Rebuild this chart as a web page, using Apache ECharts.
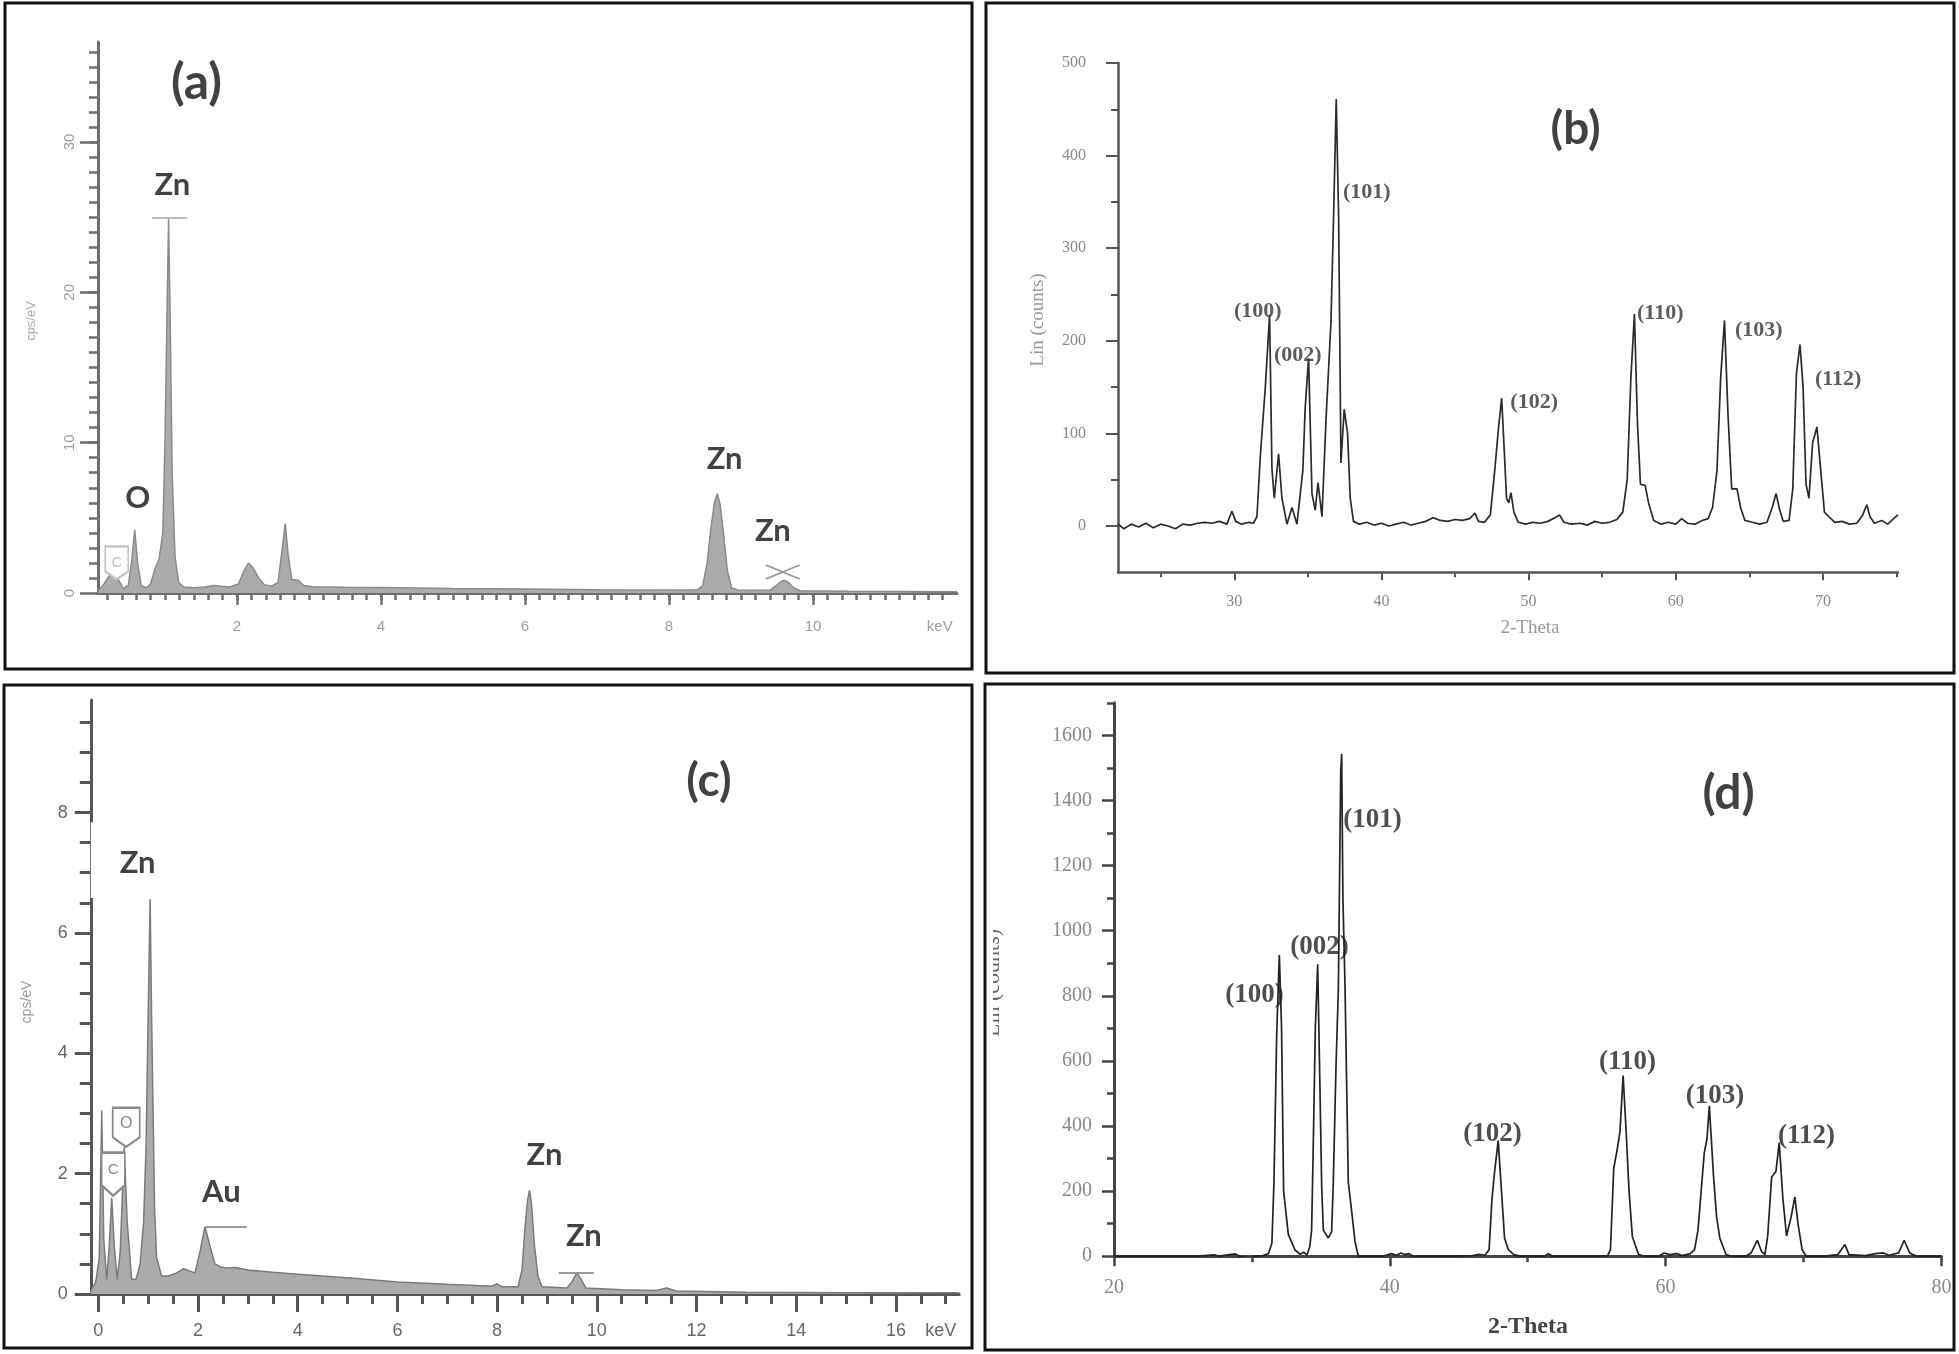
<!DOCTYPE html>
<html><head><meta charset="utf-8">
<script src="https://cdn.jsdelivr.net/npm/echarts@6/dist/echarts.min.js"></script>
<style>html,body{margin:0;padding:0;background:#fff}#c{width:1959px;height:1354px}</style>
</head><body><div id="c"></div>
<script>
// ---------- DATA ----------
// (a) EDS spectrum  [keV, cps/eV]
const edsA = [[0.07,0.15],[0.14,0.5],[0.22,1.1],[0.29,1.5],[0.35,0.9],[0.42,0.3],[0.49,0.5],[0.54,2.2],[0.58,4.2],[0.62,2.0],[0.67,0.5],[0.74,0.35],[0.80,0.6],[0.86,1.6],[0.92,2.3],[0.97,4.0],[1.00,10],[1.03,19],[1.05,24.9],[1.07,19],[1.10,8],[1.14,2.4],[1.19,0.7],[1.26,0.4],[1.4,0.35],[1.55,0.4],[1.68,0.5],[1.78,0.45],[1.9,0.4],[2.02,0.6],[2.1,1.5],[2.16,2.0],[2.22,1.7],[2.3,1.0],[2.38,0.55],[2.48,0.45],[2.57,0.7],[2.62,2.6],[2.67,4.6],[2.71,2.6],[2.76,0.9],[2.85,0.85],[2.93,0.5],[3.05,0.42],[3.5,0.38],[4.0,0.36],[5.0,0.3],[6.0,0.26],[7.0,0.22],[8.0,0.2],[8.40,0.22],[8.47,0.5],[8.53,2.0],[8.58,4.2],[8.63,6.0],[8.67,6.6],[8.71,5.9],[8.76,3.8],[8.81,1.5],[8.87,0.35],[8.95,0.2],[9.40,0.18],[9.48,0.45],[9.55,0.75],[9.60,0.85],[9.66,0.7],[9.73,0.35],[9.82,0.15],[10.5,0.12],[11.2,0.1],[12.0,0.08]];
// (c) EDS spectrum  [keV, cps/eV]
const edsC = [[-0.15,0.05],[-0.05,0.2],[0.02,0.6],[0.07,3.05],[0.11,0.9],[0.17,0.24],[0.22,0.8],[0.27,1.6],[0.32,0.8],[0.38,0.24],[0.44,0.7],[0.52,2.44],[0.58,1.2],[0.67,0.24],[0.76,0.25],[0.84,0.5],[0.91,1.2],[0.96,2.5],[1.00,4.6],[1.04,6.56],[1.07,4.6],[1.10,3.0],[1.13,1.4],[1.17,0.6],[1.27,0.3],[1.4,0.3],[1.55,0.34],[1.71,0.42],[1.84,0.38],[1.94,0.35],[2.04,0.7],[2.14,1.12],[2.24,0.8],[2.34,0.5],[2.45,0.45],[2.6,0.43],[2.75,0.44],[3.0,0.4],[3.5,0.36],[4.0,0.33],[5.0,0.27],[6.0,0.2],[7.0,0.16],[7.9,0.13],[8.0,0.17],[8.1,0.12],[8.42,0.12],[8.5,0.4],[8.56,1.1],[8.61,1.55],[8.65,1.72],[8.69,1.5],[8.75,0.8],[8.82,0.3],[8.9,0.12],[9.4,0.1],[9.5,0.2],[9.6,0.35],[9.68,0.25],[9.78,0.1],[10.5,0.07],[11.2,0.06],[11.4,0.1],[11.6,0.05],[13.0,0.03],[15.0,0.02],[17.27,0.02]];
// (b) XRD pattern [2-theta, counts]
const xrdB = [[22.1,2],[22.5,-3],[23.0,2],[23.5,-1],[24.0,3],[24.5,-2],[25.0,2],[25.5,0],[26.0,-3],[26.5,2],[27.0,1],[27.5,3],[28.0,4],[28.5,3],[29.0,5],[29.5,2],[29.84,16],[30.1,5],[30.5,2],[31.0,4],[31.3,3],[31.54,10],[31.77,75],[32.11,150],[32.40,228],[32.56,62],[32.72,30],[33.01,78],[33.24,30],[33.58,2],[33.92,20],[34.26,2],[34.66,60],[34.82,128],[35.05,181],[35.28,35],[35.50,17],[35.69,47],[35.96,10],[36.25,120],[36.57,220],[36.75,335],[36.93,461],[37.09,335],[37.25,68],[37.47,126],[37.70,100],[37.88,30],[38.10,5],[38.5,2],[39.0,4],[39.5,1],[40.0,3],[40.5,0],[41.0,2],[41.5,4],[42.0,1],[42.5,3],[43.0,5],[43.5,9],[44.0,6],[44.5,5],[45.0,7],[45.5,6],[46.0,8],[46.35,14],[46.6,5],[47.0,4],[47.4,12],[47.7,60],[47.95,105],[48.17,138],[48.35,80],[48.5,30],[48.65,25],[48.80,36],[49.0,15],[49.3,4],[49.8,2],[50.3,4],[50.8,3],[51.3,5],[51.8,9],[52.1,12],[52.4,4],[52.9,2],[53.5,3],[54.0,1],[54.5,5],[55.0,3],[55.5,4],[56.0,7],[56.4,15],[56.7,50],[56.95,160],[57.19,229],[57.4,110],[57.6,45],[57.92,44],[58.15,25],[58.5,6],[59.0,2],[59.5,4],[60.0,2],[60.4,8],[60.8,3],[61.3,2],[61.8,6],[62.2,8],[62.5,20],[62.8,60],[63.05,160],[63.31,222],[63.55,120],[63.8,40],[64.16,40],[64.4,20],[64.7,6],[65.2,4],[65.7,2],[66.2,4],[66.55,20],[66.82,35],[67.05,18],[67.3,5],[67.7,6],[67.95,40],[68.2,165],[68.44,196],[68.65,150],[68.85,45],[69.05,30],[69.3,90],[69.59,107],[69.85,60],[70.1,15],[70.4,10],[70.8,4],[71.3,5],[71.8,2],[72.3,3],[72.7,12],[72.98,23],[73.2,10],[73.5,3],[74.0,6],[74.4,2],[74.8,8],[75.1,12]];
// (d) XRD pattern [2-theta, counts]
const xrdD = [[20,0],[22,0],[24,0],[26,0],[27.3,4],[27.6,0],[28.8,7],[29.1,0],[29.8,-6],[30.2,0],[30.8,2],[31.2,8],[31.45,40],[31.6,228],[31.8,684],[31.99,925],[32.15,700],[32.3,200],[32.64,67],[33.13,19],[33.5,6],[33.75,12],[34.0,4],[34.2,30],[34.33,80],[34.45,339],[34.6,700],[34.77,897],[34.9,600],[35.06,215],[35.18,80],[35.54,56],[35.78,75],[35.9,222],[36.1,586],[36.27,820],[36.44,1487],[36.51,1543],[36.6,1100],[36.75,833],[36.99,228],[37.24,136],[37.48,44],[37.72,0],[38.5,0],[39.5,0],[40.1,8],[40.5,3],[40.8,10],[41.1,5],[41.4,8],[41.7,0],[43,0],[44.5,0],[46.0,2],[46.5,6],[46.9,3],[47.2,20],[47.41,176],[47.6,260],[47.86,355],[48.1,200],[48.32,56],[48.6,20],[48.99,5],[49.5,0],[51.2,0],[51.5,8],[51.8,0],[53,0],[55,0],[55.8,2],[56.0,20],[56.24,270],[56.5,330],[56.69,382],[56.92,555],[57.14,382],[57.35,200],[57.59,60],[58.04,5],[58.5,0],[59.5,0],[59.9,10],[60.3,5],[60.8,8],[61.2,2],[61.8,8],[62.1,20],[62.35,80],[62.8,316],[63.0,360],[63.17,462],[63.48,243],[63.7,120],[63.93,56],[64.38,5],[64.8,0],[65.8,0],[66.2,10],[66.65,49],[66.95,15],[67.2,5],[67.4,60],[67.69,243],[68.0,260],[68.24,349],[68.5,180],[68.77,62],[69.1,120],[69.37,182],[69.6,100],[69.9,20],[70.2,0],[71.5,0],[72.5,5],[73.0,36],[73.3,5],[74.5,2],[75.2,8],[75.8,10],[76.2,3],[76.9,10],[77.3,49],[77.7,10],[78.2,0],[80,0]];

// annotations [x, y, text] in data coordinates
const labelsA = [[1.445,33.9,'(a)'],[1.11,27.1,'Zn'],[0.63,6.3,'O'],[8.78,8.9,'Zn'],[9.45,4.1,'Zn']];
const labelsC = [[12.26,8.52,'(c)'],[0.80,7.16,'Zn'],[2.48,1.69,'Au'],[8.96,2.30,'Zn'],[9.75,0.95,'Zn']];
const labelsB = [[53.23,428,'(b)'],[31.63,231,'(100)'],[34.35,184,'(002)'],[39.04,360,'(101)'],[50.41,133,'(102)'],[58.98,229,'(110)'],[65.67,211,'(103)'],[71.07,158,'(112)']];
const labelsD = [[64.6,1420,'(d)'],[30.22,801,'(100)'],[34.94,947,'(002)'],[38.78,1337,'(101)'],[47.48,375,'(102)'],[57.27,595,'(110)'],[63.62,489,'(103)'],[70.25,369,'(112)']];

// tick values
const aXMajor = [2,4,6,8,10], aXLabels = [2,4,6,8,10,11.76];
const aYMajor = [0,10,20,30];
const cXMajor = [0,2,4,6,8,10,12,14,16], cXLabels = [0,2,4,6,8,10,12,14,16,16.9];
const cYMajor = [0,2,4,6,8];
const bXMajor = [30,40,50,60,70], bXMinor = [25,35,45,55,65,75];
const bYMajor = [0,100,200,300,400,500], bYMinor = [50,150,250,350,450];
const dXMajor = [20,40,60,80], dXMinor = [30,50,70];
const dYMajor = [0,200,400,600,800,1000,1200,1400,1600], dYMinor = [100,300,500,700,900,1100,1300,1500,1700];
function steps(a,b,s){const r=[];for(let v=a;v<=b+1e-9;v+=s)r.push(+v.toFixed(3));return r;}
const aXMinor = steps(0.2,11.8,0.2), aYMinor = steps(1,36,1);
const cXMinor = steps(0.5,17,0.5), cYMinor = steps(0.5,9.5,0.5);

// ---------- LAYOUT ----------
const gridRects = [
  {left:98, top:42, width:859, height:551},
  {left:1118, top:63, width:780, height:509.3},
  {left:90.8, top:700, width:868.4, height:594},
  {left:1114, top:702.8, width:827.4, height:553.4}
];
const ext = [
  {x:[0.07,12], y:[0,36.65]},
  {x:[22.1,75.1], y:[-50,500]},
  {x:[-0.15,17.27], y:[0,9.87]},
  {x:[20,80], y:[0,1700]}
];
const sans = 'Liberation Sans', serif = 'Liberation Serif';
const plain = v=>String(v);
const sty = [
  {line:'#6e6e6e', lw:3, tw:2.5, xMaj:12, xMin:7, yMaj:18, yMin:9,
   xLab:{margin:26,color:'#9c9c9c',fontSize:15,fontFamily:sans,formatter:v=>v>11?'keV':String(v)},
   yLab:{margin:21,rotate:90,color:'#9c9c9c',fontSize:15,fontFamily:sans,formatter:plain}},
  {line:'#555', lw:2.5, tw:2, xMaj:8, xMin:5, yMaj:12, yMin:7,
   xLab:{margin:21,color:'#888',fontSize:16,fontFamily:serif,formatter:plain},
   yLab:{margin:32,color:'#888',fontSize:16,fontFamily:serif,formatter:plain}},
  {line:'#555', lw:3, tw:3, xMaj:18, xMin:10, yMaj:16, yMin:11,
   xLab:{margin:28,color:'#666',fontSize:18,fontFamily:sans,formatter:v=>v>16.5?'keV':String(v)},
   yLab:{margin:23,color:'#666',fontSize:18,fontFamily:sans,formatter:plain}},
  {line:'#444', lw:3, tw:2.5, xMaj:10, xMin:6, yMaj:12, yMin:7,
   xLab:{margin:22,color:'#888',fontSize:20,fontFamily:serif,formatter:plain},
   yLab:{margin:22,color:'#888',fontSize:20,fontFamily:serif,formatter:plain}}
];
const ticks = [
  {xMaj:aXMajor,xLab:aXLabels,xMin:aXMinor,yMaj:aYMajor,yLab:aYMajor,yMin:aYMinor},
  {xMaj:bXMajor,xLab:bXMajor,xMin:bXMinor,yMaj:bYMajor,yLab:bYMajor,yMin:bYMinor},
  {xMaj:cXMajor,xLab:cXLabels,xMin:cXMinor,yMaj:cYMajor,yLab:cYMajor,yMin:cYMinor},
  {xMaj:dXMajor,xLab:dXMajor,xMin:dXMinor,yMaj:dYMajor,yLab:dYMajor,yMin:dYMinor}
];
function axis(gi, ex, tickVals, len, labels, s, showLine, isY){
  return {type:'value', gridIndex:gi, min:ex[0], max:ex[1], position:isY?'left':'bottom',
    axisLine:{show:showLine,onZero:false,lineStyle:{color:s.line,width:s.lw}},
    axisTick:{show:true,inside:false,customValues:tickVals,length:len,lineStyle:{color:s.line,width:s.tw}},
    axisLabel: labels ? Object.assign({show:true,customValues:labels}, isY?s.yLab:s.xLab) : {show:false},
    splitLine:{show:false}, splitArea:{show:false}};
}
const grid = [], xAxis = [], yAxis = [];
for (let i=0;i<4;i++){ grid.push(Object.assign({},gridRects[i])); }
for (let i=0;i<4;i++){ grid.push(Object.assign({},gridRects[i])); }
for (let i=0;i<4;i++){
  xAxis.push(axis(i, ext[i].x, ticks[i].xMaj, sty[i].xMaj, ticks[i].xLab, sty[i], true, false));
  yAxis.push(axis(i, ext[i].y, ticks[i].yMaj, sty[i].yMaj, ticks[i].yLab, sty[i], true, true));
}
for (let i=0;i<4;i++){
  xAxis.push(axis(4+i, ext[i].x, ticks[i].xMin, sty[i].xMin, null, sty[i], false, false));
  yAxis.push(axis(4+i, ext[i].y, ticks[i].yMin, sty[i].yMin, null, sty[i], false, true));
}

function labelSeries(idx, list, base, big){
  return {type:'scatter', xAxisIndex:idx, yAxisIndex:idx, silent:true, symbolSize:1, z:6,
    itemStyle:{color:'rgba(0,0,0,0)'},
    label:Object.assign({show:true, position:[0,0], align:'center', verticalAlign:'middle', formatter:'{b}'}, base),
    data:list.map(l=>({value:[l[0],l[1]], name:l[2], label: /^\([a-d]\)$/.test(l[2]) ? big : undefined}))};
}
const edsLab = {fontFamily:'Lato', fontWeight:'bold', fontSize:31, color:'#111'};
const letter = (fs)=>({fontFamily:'Lato', fontWeight:'bold', fontSize:fs, color:'#111'});
const tag = 'path://M0,0L20,0L20,28L10,37L0,28Z';

const series = [
  {type:'line', xAxisIndex:0, yAxisIndex:0, data:edsA, symbol:'none', silent:true,
   lineStyle:{color:'#8a8a8a', width:1.5}, areaStyle:{color:'#ababab', opacity:1},
   markLine:{silent:true, symbol:['none','none'], label:{show:false}, lineStyle:{color:'#bbb', width:2, type:'solid'},
     data:[[{coord:[0.82,24.95]},{coord:[1.31,24.95]}]]},
   markPoint:{silent:true, data:[
     {coord:[0.33,2.0], symbol:tag, symbolSize:[23,33], itemStyle:{color:'#fff', borderColor:'#c4c4c4', borderWidth:2},
      label:{show:true, formatter:'C', color:'#bbb', fontSize:14, fontFamily:sans}},
     {coord:[9.58,1.4], symbol:'path://M0,0L10,7L20,0M0,14L10,7L20,14', symbolSize:[34,14],
      itemStyle:{color:'rgba(0,0,0,0)', borderColor:'#999', borderWidth:2}, label:{show:false}}
   ]}},
  {type:'line', xAxisIndex:1, yAxisIndex:1, data:xrdB, symbol:'none', silent:true,
   lineStyle:{color:'#2a2a2a', width:1.7}},
  {type:'line', xAxisIndex:2, yAxisIndex:2, data:edsC, symbol:'none', silent:true, clip:false,
   lineStyle:{color:'#7a7a7a', width:1.5}, areaStyle:{color:'#ababab', opacity:1},
   markArea:{silent:true, itemStyle:{color:'#fff', borderWidth:0}, label:{show:false},
     data:[[{coord:[-0.195,6.58]},{coord:[1.17,7.84]}]]},
   markLine:{silent:true, symbol:['none','none'], label:{show:false}, lineStyle:{color:'#999', width:2, type:'solid'},
     data:[[{coord:[2.16,1.11]},{coord:[2.98,1.11]}],[{coord:[9.24,0.36]},{coord:[9.94,0.36]}]]},
   markPoint:{silent:true, data:[
     {coord:[0.30,1.99], symbol:tag, symbolSize:[23,43], itemStyle:{color:'#fff', borderColor:'#8a8a8a', borderWidth:2},
      label:{show:true, formatter:'C', color:'#888', fontSize:15, fontFamily:sans, offset:[0,-4]}},
     {coord:[0.56,2.77], symbol:tag, symbolSize:[27,39], itemStyle:{color:'#fff', borderColor:'#8a8a8a', borderWidth:2},
      label:{show:true, formatter:'O', color:'#888', fontSize:16, fontFamily:sans, offset:[0,-4]}}
   ]}},
  {type:'line', xAxisIndex:3, yAxisIndex:3, data:xrdD, symbol:'none', silent:true,
   lineStyle:{color:'#222', width:1.7}},
  labelSeries(0, labelsA, edsLab, letter(50)),
  labelSeries(2, labelsC, edsLab, letter(46)),
  labelSeries(1, labelsB, {fontFamily:serif, fontWeight:'bold', fontSize:22, color:'#333'}, letter(46)),
  labelSeries(3, labelsD, {fontFamily:serif, fontWeight:'bold', fontSize:27, color:'#222'}, letter(48))
];

function txt(x,y,text,font,fill,rot){
  return {type:'text', x:x, y:y, rotation:rot||0, z:40,
    style:{text:text, font:font, fill:fill, align:'center', verticalAlign:'middle', textAlign:'center', textVerticalAlign:'middle'}};
}
const border = (x,y,w,h)=>({type:'rect', z:100, shape:{x:x,y:y,width:w,height:h}, style:{fill:'none', stroke:'#111', lineWidth:3}});
const graphic = [
  txt(31,321,'cps/eV','13px '+sans,'#aaa',Math.PI/2),
  txt(27,1002,'cps/eV','14px '+sans,'#999',Math.PI/2),
  txt(1038,320,'Lin (counts)','19px '+serif,'#999',Math.PI/2),
  txt(1530,628,'2-Theta','19px '+serif,'#999',0),
  txt(1528,1327,'2-Theta','bold 24px '+serif,'#444',0),
  txt(993,983,'Lin (counts)','22px '+serif,'#666',Math.PI/2),
  {type:'rect', z:60, shape:{x:986,y:880,width:7,height:210}, style:{fill:'#fff'}},
  border(5,3,967,666), border(986,3,968,670), border(4,685,968,663), border(985,684,969,666)
];

const chart = echarts.init(document.getElementById('c'), null, {renderer:'canvas', width:1959, height:1354});
chart.setOption({animation:false, backgroundColor:'#fff', grid:grid, xAxis:xAxis, yAxis:yAxis, series:series, graphic:graphic});
</script></body></html>
